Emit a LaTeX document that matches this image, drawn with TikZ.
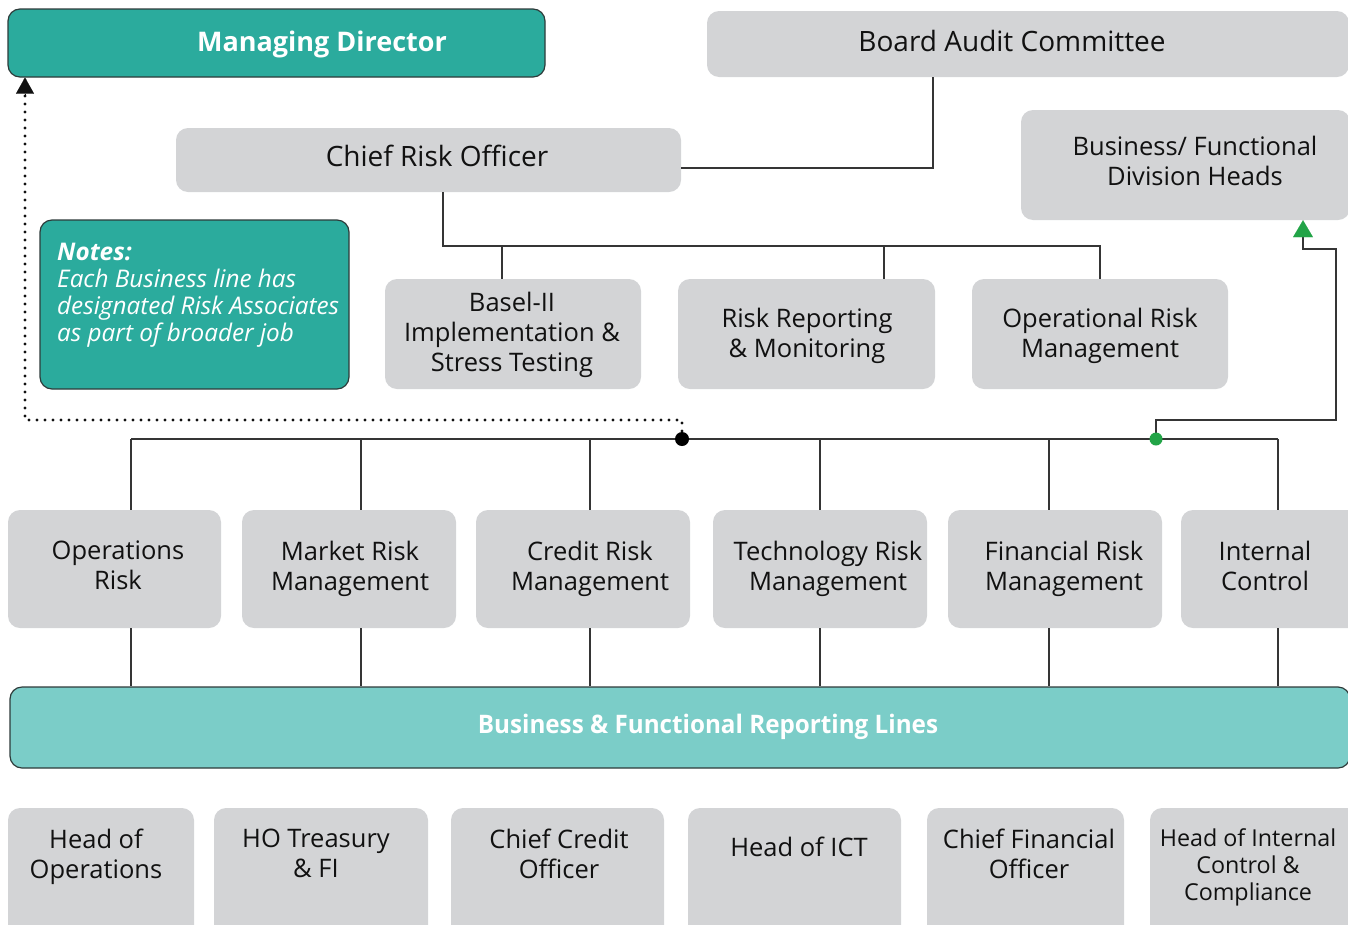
\documentclass[tikz,border=0pt]{standalone}
\usepackage{fontspec}
\setmainfont{Open Sans}
\newfontfamily\condbold[FakeStretch=0.95]{Open Sans Bold}
\usetikzlibrary{arrows.meta,calc}
\definecolor{boxgray}{HTML}{D3D4D6}
\definecolor{teal1}{HTML}{2BAB9D}
\definecolor{teal2}{HTML}{7BCDC8}
\definecolor{greenar}{HTML}{22A447}
\definecolor{txt}{HTML}{111111}
\definecolor{edge}{HTML}{2E3B3A}
\begin{document}
\begin{tikzpicture}[x=1pt,y=-1pt,
  gbox/.style={fill=boxgray,draw=none,rounded corners=12pt,inner sep=0pt},
  tbox/.style={fill=teal1,draw=edge,line width=1.2pt,rounded corners=12pt,inner sep=0pt},
  lbl/.style={text=txt,align=center,font=\fontsize{25.5}{30}\selectfont,inner sep=0pt,
    execute at begin node=\strut, execute at end node=\strut, yshift=-4pt},
  conn/.style={draw=txt!85,line width=1.4pt},
]
\useasboundingbox (0,0) rectangle (1348,924);
\clip (0,0) rectangle (1348,924);
% top boxes
\node[tbox,minimum width=537pt,minimum height=68pt] (md) at (276.5,43) {};
\node[text=white,font=\fontsize{27}{30}\selectfont\bfseries,inner sep=0pt,execute at begin node=\strut,yshift=-4pt] (mdt) at (322,41) {Managing Director};
\node[gbox,minimum width=642pt,minimum height=66pt] (bac) at (1028,44) {};
\node[lbl,font=\fontsize{28}{30}\selectfont] (bact) at (1012,41) {Board Audit Committee};
\node[gbox,minimum width=505pt,minimum height=64pt] (cro) at (428.5,160) {};
\node[lbl,font=\fontsize{28}{30}\selectfont] (crot) at (437,156) {Chief Risk Officer};
\node[gbox,minimum width=329pt,minimum height=110pt] (bfdh) at (1185.5,165) {};
\node[lbl] (bfdht) at (1195,161) {Business/ Functional\\Division Heads};
% notes
\node[tbox,minimum width=309pt,minimum height=169pt] (notes) at (194.5,304.5) {};
\node[text=white,align=left,anchor=north west,inner sep=0pt,font=\fontsize{24.3}{27}\selectfont\itshape] (notest) at (57,242.5) {\textbf{Notes:}\\Each Business line has\\designated Risk Associates\\as part of broader job};
% second level
\node[gbox,minimum width=256pt,minimum height=110pt] (basel) at (513,334) {};
\node[lbl] (baselt) at (512,332) {Basel-II\\Implementation \&\\Stress Testing};
\node[gbox,minimum width=257pt,minimum height=110pt] (rrm) at (806.5,334) {};
\node[lbl] (rrmt) at (807,333) {Risk Reporting\\\& Monitoring};
\node[gbox,minimum width=256pt,minimum height=110pt] (orm) at (1100,334) {};
\node[lbl] (ormt) at (1100,333) {Operational Risk\\Management};
% middle row
\node[gbox,minimum width=213pt,minimum height=118pt] (or) at (114.5,569) {};
\node[lbl] (ort) at (118,566) {Operations\\Risk};
\node[gbox,minimum width=214pt,minimum height=118pt] (mrm) at (349,569) {};
\node[lbl] (mrmt) at (350,566) {Market Risk\\Management};
\node[gbox,minimum width=214pt,minimum height=118pt] (crm) at (583,569) {};
\node[lbl] (crmt) at (590,566) {Credit Risk\\Management};
\node[gbox,minimum width=214pt,minimum height=118pt] (trm) at (820,569) {};
\node[lbl] (trmt) at (828,566) {Technology Risk\\Management};
\node[gbox,minimum width=214pt,minimum height=118pt] (frm) at (1055,569) {};
\node[lbl] (frmt) at (1064,566) {Financial Risk\\Management};
\node[gbox,minimum width=180pt,minimum height=118pt] (ic) at (1271,569) {};
\node[lbl] (ict) at (1265,566) {Internal\\Control};
% bar
\node[fill=teal2,draw=edge,line width=1.2pt,rounded corners=12pt,minimum width=1340pt,minimum height=81pt,inner sep=0pt] (bar) at (680,727.5) {};
\node[text=white,inner sep=0pt,font=\fontsize{25.5}{30}\selectfont\condbold] (bart) at (708,727) {Business \& Functional Reporting Lines};
% bottom row
\node[gbox,minimum width=186pt,minimum height=132pt] (hop) at (101,874) {};
\node[lbl] (hopt) at (96,854) {Head of\\Operations};
\node[gbox,minimum width=214pt,minimum height=132pt] (hot) at (321,874) {};
\node[lbl] (hott) at (316,854) {HO Treasury\\\& FI};
\node[gbox,minimum width=213pt,minimum height=132pt] (cco) at (557.5,874) {};
\node[lbl] (ccot) at (559,854) {Chief Credit\\Officer};
\node[gbox,minimum width=213pt,minimum height=132pt] (hict) at (794.5,874) {};
\node[lbl] (hictt) at (799,846) {Head of ICT};
\node[gbox,minimum width=197pt,minimum height=132pt] (cfo) at (1025.5,874) {};
\node[lbl] (cfot) at (1029,854) {Chief Financial\\Officer};
\node[gbox,minimum width=210pt,minimum height=132pt] (hicc) at (1255,874) {};
\node[lbl,font=\fontsize{23.3}{27}\selectfont] (hicct) at (1248,865) {Head of Internal\\Control \&\\Compliance};
% connectors: board audit to CRO
\coordinate (ba1) at (933,168);
\draw[conn] (bac.south -| ba1) -- (ba1) -- (cro.east |- ba1);
% CRO to second level
\coordinate (c1) at (443,246);
\coordinate (c2) at (502,246);
\coordinate (c3) at (884,246);
\coordinate (c4) at (1100,246);
\draw[conn] (cro.south -| c1) -- (c1) -- (c4) -- (orm.north -| c4);
\draw[conn] (c2) -- (basel.north -| c2);
\draw[conn] (c3) -- (rrm.north -| c3);
% main bus
\coordinate (b1) at (131,439);
\coordinate (b2) at (361,439);
\coordinate (b3) at (590,439);
\coordinate (b4) at (820,439);
\coordinate (b5) at (1049,439);
\coordinate (b6) at (1278,439);
\coordinate (bd) at (682,439);
\coordinate (gd) at (1156,439);
\draw[conn] (b1) -- (b6);
\foreach \c/\n in {b1/or,b2/mrm,b3/crm,b4/trm,b5/frm,b6/ic}{
  \draw[conn] (\c) -- (\n.north -| \c);
  \draw[conn] (\n.south -| \c) -- (bar.north -| \c);
}
% dotted to MD
\coordinate (d1) at (682,420);
\coordinate (d2) at (25,420);
\draw[line width=3.1pt,dash pattern=on 0pt off 8pt,line cap=round,txt] (bd) -- (d1) -- (d2) -- (md.south -| d2);
\draw[-{Triangle[length=16pt,width=18pt]},line width=0.1pt,txt,fill=txt] ($(md.south -| d2)+(0,17)$) -- (md.south -| d2);
\fill[black] (bd) circle (7pt);
% green to division heads
\coordinate (g1) at (1156,420);
\coordinate (g2) at (1336,420);
\coordinate (g3) at (1336,249);
\coordinate (g4) at (1303,249);
\draw[conn] (gd) -- (g1) -- (g2) -- (g3) -- (g4) -- ($(bfdh.south -| g4)+(0,14)$);
\draw[-{Triangle[length=17pt,width=20pt]},line width=0.1pt,greenar] ($(bfdh.south -| g4)+(0,16)$) -- (bfdh.south -| g4);
\fill[greenar] (gd) circle (6.5pt);
\end{tikzpicture}
\end{document}
